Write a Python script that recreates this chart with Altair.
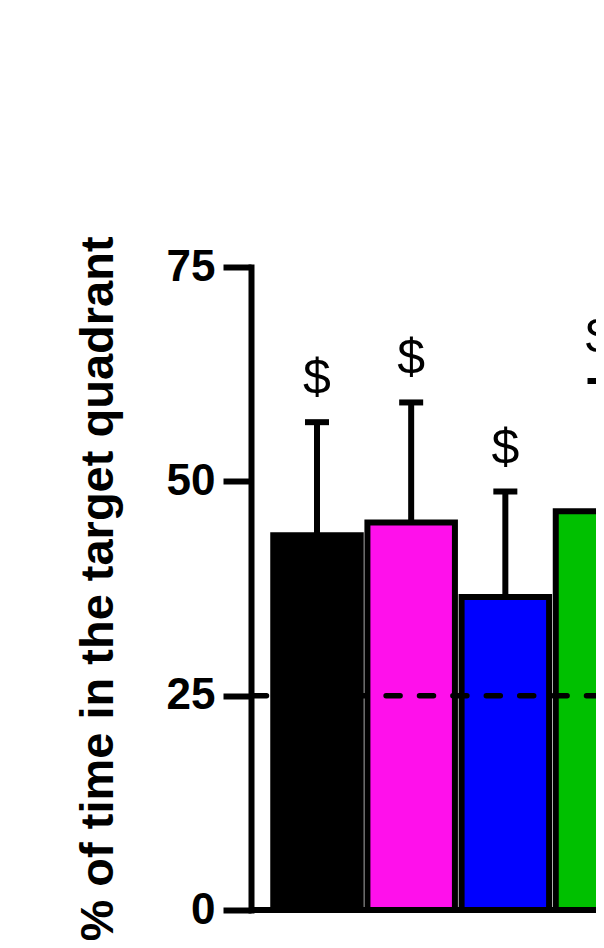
import altair as alt
import pandas as pd

groups = ["Group 1", "Group 2", "Group 3", "Group 4"]
means = [43.7, 45.2, 36.5, 46.5]
sems = [13.2, 14.0, 12.3, 15.2]
sig_marks = ["$", "$", "$", "$"]
colors = ["#000000", "#FF10EB", "#0000FF", "#00C000"]
y_ticks = [0, 25, 50, 75]
chance = [25]
y_title = "% of time in the target quadrant"

df = pd.DataFrame({"group": groups, "mean": means, "sem": sems, "sig": sig_marks})
df["top"] = df["mean"] + df["sem"]

W, H = 345, 643
FONT = "Liberation Sans"
step = 94.17
pin = 0.0708
x0 = 22.25

x_scale = alt.Scale(domain=groups, range=[x0, x0 + step * (len(groups) - pin)],
                    paddingInner=pin, paddingOuter=0)
x_enc = alt.X("group:N", scale=x_scale, axis=None, sort=groups)

y_scale = alt.Scale(domain=[0, 75], nice=False, zero=True)
y_axis = alt.Axis(values=y_ticks, grid=False, labelFlush=False, labelOverlap=False,
                  titleAngle=270, titleX=-139, titleY=H / 2, titleBaseline="alphabetic",
                  titleAlign="center")


def yenc(field):
    return alt.Y(field, scale=y_scale, axis=y_axis, title=y_title)


base = alt.Chart(df)

bars = base.mark_bar(stroke="black", strokeWidth=6, clip=True).encode(
    x=x_enc,
    y=yenc("mean:Q"),
    color=alt.Color("group:N", scale=alt.Scale(domain=groups, range=colors), legend=None),
)

stems = base.mark_rule(color="black", strokeWidth=6, clip=True).encode(
    x=x_enc, y=yenc("mean:Q"), y2="top:Q"
)

caps = base.mark_tick(color="black", thickness=6, size=24, clip=True, opacity=1).encode(
    x=x_enc, y=yenc("top:Q")
)

labels = base.mark_text(font=FONT, fontSize=50, color="black", baseline="alphabetic",
                        dy=-28, clip=True).encode(
    x=x_enc, y=yenc("top:Q"), text="sig:N"
)

dashed = alt.Chart(pd.DataFrame({"level": chance})).mark_rule(
    color="black", strokeWidth=5.5, strokeDash=[14, 19.4], strokeDashOffset=-1.5,
    strokeCap="round"
).encode(y=yenc("level:Q"), x=alt.value(0), x2=alt.value(W))

baseline = alt.Chart(pd.DataFrame({"base": [0]})).mark_rule(
    color="black", strokeWidth=6
).encode(y=yenc("base:Q"), x=alt.value(0), x2=alt.value(W))

chart = alt.layer(bars, stems, caps, labels, dashed, baseline).properties(
    width=W, height=H,
    autosize=alt.AutoSizeParams(type="none"),
    padding={"left": 243, "top": 259, "right": 0, "bottom": 30},
).configure_view(stroke=None).configure_axis(
    domainColor="black", domainWidth=6, domainCap="square",
    tickColor="black", tickWidth=6, tickSize=28,
    labelFont=FONT, labelFontSize=44, labelFontWeight="bold", labelColor="black",
    labelPadding=8,
    titleFont=FONT, titleFontSize=47, titleFontWeight="bold", titleColor="black",
)

chart.save("out.html", embed_options={"renderer": "svg", "actions": False})
